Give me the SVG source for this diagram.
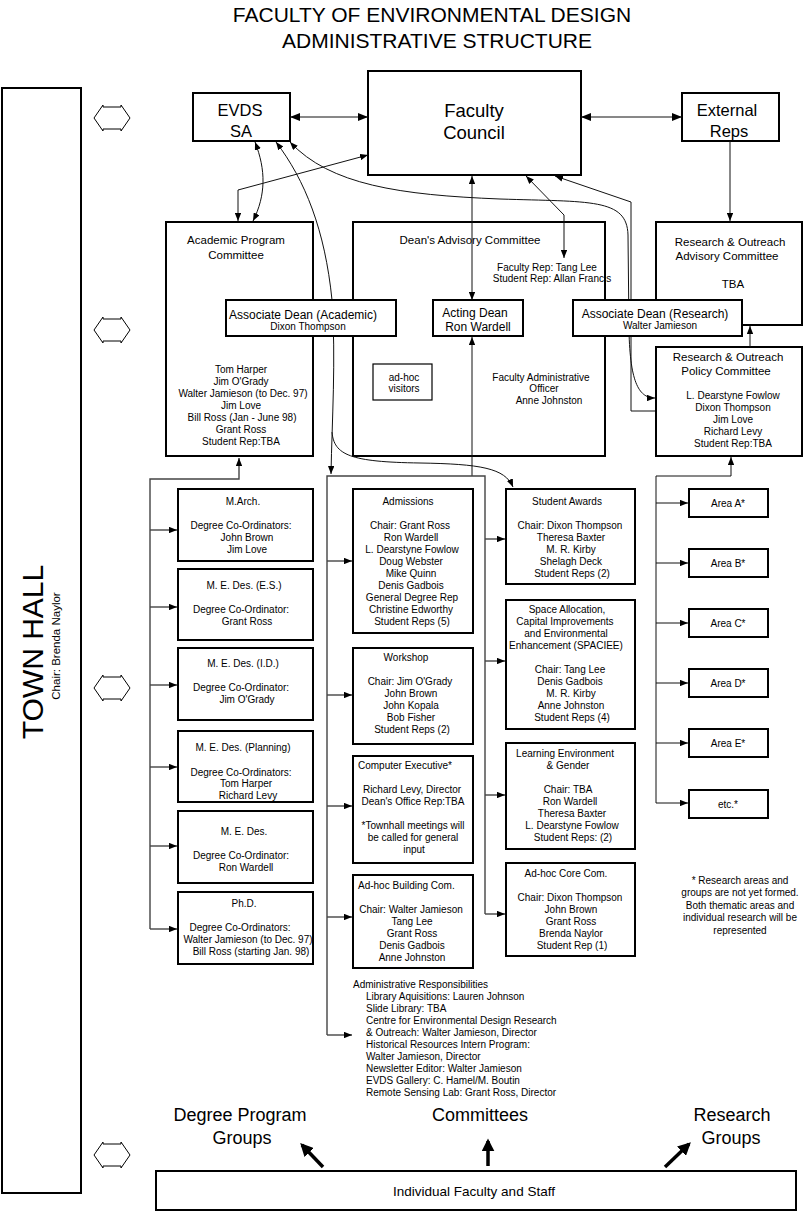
<svg xmlns="http://www.w3.org/2000/svg" width="804" height="1213" viewBox="0 0 804 1213">
<defs>
<style>
.b{fill:#fff;stroke:#000;stroke-width:2}
.bt{fill:#fff;stroke:#000;stroke-width:1.2}
text{font-family:"Liberation Sans",Arial,Helvetica,sans-serif;fill:#000}
.m{text-anchor:middle}
.s{font-size:10px}
.h{font-size:11.5px}
.a{font-size:12px}
.big{font-size:18px}
.c{fill:none;stroke:#111;stroke-width:1}
.k{fill:none;stroke:#444;stroke-width:1.4}
.x{fill:none;stroke:#000;stroke-width:3.5}
.da{fill:#fff;stroke:#000;stroke-width:1}
</style>
<marker id="ah" viewBox="0 0 10 8" refX="10" refY="4" markerWidth="8" markerHeight="6.4" markerUnits="userSpaceOnUse" orient="auto-start-reverse"><path d="M0,0L10,4L0,8z"/></marker>
<marker id="ahl" viewBox="0 0 10 8" refX="10" refY="4" markerWidth="10" markerHeight="8" markerUnits="userSpaceOnUse" orient="auto-start-reverse"><path d="M0,0L10,4L0,8z"/></marker>
<marker id="ahb" viewBox="0 0 10 10" refX="8" refY="5" markerWidth="13" markerHeight="13" markerUnits="userSpaceOnUse" orient="auto"><path d="M0,0L10,5L0,10z"/></marker>
<path id="dbl" class="da" d="M94,0L103,-13L103,-11L121,-11L121,-13L130,0L121,13L121,11L103,11L103,13Z"/>
</defs>

<g id="title">
<text class="m" x="432" y="22" font-size="21">FACULTY OF ENVIRONMENTAL DESIGN</text>
<text class="m" x="437" y="48" font-size="21">ADMINISTRATIVE STRUCTURE</text>
</g>

<g id="town-hall">
<rect class="b" x="2" y="88" width="79" height="1105"/>
<text class="m" transform="translate(43,652) rotate(-90)" font-size="30">TOWN HALL</text>
<text class="m" transform="translate(60,646) rotate(-90)" font-size="11.5">Chair: Brenda Naylor</text>
</g>

<g id="town-hall-links">
<use href="#dbl" y="118"/>
<use href="#dbl" y="330"/>
<use href="#dbl" y="688"/>
<use href="#dbl" y="1155"/>
</g>

<g id="evds-sa">
<rect class="b" x="193" y="93" width="97" height="48"/>
<text class="m" x="240" y="116" font-size="16.5">EVDS</text>
<text class="m" x="241" y="137" font-size="16.5">SA</text>
</g>

<g id="faculty-council">
<rect class="b" x="368" y="71" width="213" height="104"/>
<text class="m" x="474" y="117" font-size="18.5">Faculty</text>
<text class="m" x="474" y="139" font-size="18.5">Council</text>
</g>

<g id="external-reps">
<rect class="b" x="682" y="93" width="97" height="48"/>
<text class="m" x="727" y="116" font-size="16.5">External</text>
<text class="m" x="729" y="137" font-size="16.5">Reps</text>
</g>

<g id="academic-program-committee">
<rect class="b" x="166" y="222" width="147" height="234"/>
<text class="m h" x="236" y="244">Academic Program</text>
<text class="m h" x="236" y="259">Committee</text>
<text class="m s" x="242"><tspan x="241" y="373">Tom Harper</tspan><tspan x="241" y="385">Jim O'Grady</tspan><tspan x="243" y="397">Walter Jamieson (to Dec. 97)</tspan><tspan x="241" y="409">Jim Love</tspan><tspan x="242" y="421">Bill Ross (Jan - June 98)</tspan><tspan x="241" y="433">Grant Ross</tspan><tspan x="241" y="445">Student Rep:TBA</tspan></text>
</g>

<g id="deans-advisory-committee">
<rect class="b" x="353" y="222" width="252" height="234"/>
<text class="m h" x="470" y="244">Dean's Advisory Committee</text>
<text class="m s" x="547" y="270.5">Faculty Rep: Tang Lee</text>
<text class="m s" x="552" y="282">Student Rep: Allan Francis</text>
<text class="m s"><tspan x="541" y="380.5">Faculty Administrative</tspan><tspan x="544" y="391.5">Officer</tspan><tspan x="549" y="403.5">Anne Johnston</tspan></text>
</g>

<g id="adhoc-visitors">
<rect class="bt" x="373" y="364" width="59" height="36"/>
<text class="m s" x="404" y="380.5">ad-hoc</text>
<text class="m s" x="404" y="391.5">visitors</text>
</g>

<g id="ro-advisory-committee">
<rect class="b" x="656" y="222" width="146" height="103"/>
<text class="m h" x="730" y="245.5">Research &amp; Outreach</text>
<text class="m h" x="727" y="259.5">Advisory Committee</text>
<text class="m h" x="733" y="288">TBA</text>
</g>

<g id="ro-policy-committee">
<rect class="b" x="656" y="347" width="146" height="109"/>
<text class="m h" x="728" y="360.5">Research &amp; Outreach</text>
<text class="m h" x="726" y="374.5">Policy Committee</text>
<text class="m s"><tspan x="733" y="398.5">L. Dearstyne Fowlow</tspan><tspan x="733" y="410.5">Dixon Thompson</tspan><tspan x="733" y="422.5">Jim Love</tspan><tspan x="733" y="434.5">Richard Levy</tspan><tspan x="733" y="446.5">Student Rep:TBA</tspan></text>
</g>

<g id="connectors">
<path class="c" d="M290,117H368" marker-start="url(#ahl)" marker-end="url(#ahl)"/>
<path class="c" d="M581,117H682" marker-start="url(#ahl)" marker-end="url(#ahl)"/>
<path class="c" d="M368,155L238,190V221" marker-start="url(#ah)" marker-end="url(#ah)"/>
<path class="c" d="M255,142C266,170 266,195 253,221" marker-start="url(#ah)" marker-end="url(#ah)"/>
<path class="c" d="M276,142C305,180 325,230 332,300C336,360 332,420 331,474" marker-start="url(#ah)" marker-end="url(#ah)"/>
<path class="c" d="M332,432C334,455 350,462 420,463C480,464 505,468 513,487" marker-end="url(#ah)"/>
<path class="c" d="M290,142C330,185 400,195 500,199C590,202 627,198 628,235L629,330C630,385 640,398 655,398" marker-start="url(#ah)" marker-end="url(#ah)"/>
<path class="c" d="M526,176L564,215V258" marker-start="url(#ah)" marker-end="url(#ah)"/>
<path class="c" d="M555,176L631,202V411H655" marker-start="url(#ah)"/>
<path class="c" d="M472,176V300" marker-start="url(#ah)" marker-end="url(#ah)"/>
<path class="c" d="M472,476V337" marker-end="url(#ah)"/>
<path class="c" d="M730,141V221" marker-end="url(#ah)"/>
<path class="c" d="M750,347V326" marker-end="url(#ah)"/>
<path class="k" d="M150,929V479H239V458" marker-end="url(#ah)"/>
<path class="k" d="M150,530H177" marker-end="url(#ah)"/>
<path class="k" d="M150,607H177" marker-end="url(#ah)"/>
<path class="k" d="M150,685H177" marker-end="url(#ah)"/>
<path class="k" d="M150,767H177" marker-end="url(#ah)"/>
<path class="k" d="M150,846H177" marker-end="url(#ah)"/>
<path class="k" d="M150,929H177" marker-end="url(#ah)"/>
<path class="k" d="M327,1035V476H485V914"/>
<path class="k" d="M327,561H352" marker-end="url(#ah)"/>
<path class="k" d="M327,695H352" marker-end="url(#ah)"/>
<path class="k" d="M327,806H352" marker-end="url(#ah)"/>
<path class="k" d="M327,917H352" marker-end="url(#ah)"/>
<path class="k" d="M327,1035H352" marker-end="url(#ah)"/>
<path class="k" d="M485,539H505" marker-end="url(#ah)"/>
<path class="k" d="M485,661H505" marker-end="url(#ah)"/>
<path class="k" d="M485,795H505" marker-end="url(#ah)"/>
<path class="k" d="M485,914H505" marker-end="url(#ah)"/>
<path class="c" d="M656,803V476H731V457" marker-end="url(#ah)"/>
<path class="c" d="M656,503H688" marker-end="url(#ah)"/>
<path class="c" d="M656,563H688" marker-end="url(#ah)"/>
<path class="c" d="M656,623H688" marker-end="url(#ah)"/>
<path class="c" d="M656,683H688" marker-end="url(#ah)"/>
<path class="c" d="M656,743H688" marker-end="url(#ah)"/>
<path class="c" d="M656,803H688" marker-end="url(#ah)"/>
<path class="x" d="M323,1167L302,1145" marker-end="url(#ahb)"/>
<path class="x" d="M488,1166V1141" marker-end="url(#ahb)"/>
<path class="x" d="M665,1167L689,1144" marker-end="url(#ahb)"/>
</g>

<g id="assoc-dean-academic">
<rect class="b" x="226" y="300" width="170" height="36"/>
<text class="m a" x="303" y="318.5">Associate Dean (Academic)</text>
<text class="m s" x="308" y="329.5">Dixon Thompson</text>
</g>

<g id="acting-dean">
<rect class="b" x="433" y="300" width="90" height="36"/>
<text class="m a" x="475" y="316.5">Acting Dean</text>
<text class="m a" x="478" y="331">Ron Wardell</text>
</g>

<g id="assoc-dean-research">
<rect class="b" x="573" y="300" width="169" height="36"/>
<text class="m a" x="655" y="317.5">Associate Dean (Research)</text>
<text class="m s" x="660" y="328.5">Walter Jamieson</text>
</g>

<g id="m-arch">
<rect class="b" x="178" y="489" width="135" height="72"/>
<text class="m s"><tspan x="243" y="504.5">M.Arch.</tspan><tspan x="241" y="528.5">Degree Co-Ordinators:</tspan><tspan x="247" y="540.5">John Brown</tspan><tspan x="247" y="552.5">Jim Love</tspan></text>
</g>
<g id="med-es">
<rect class="b" x="178" y="569" width="135" height="71"/>
<text class="m s"><tspan x="244" y="588.5">M. E. Des. (E.S.)</tspan><tspan x="241" y="612.5">Degree Co-Ordinator:</tspan><tspan x="247" y="624.5">Grant Ross</tspan></text>
</g>
<g id="med-id">
<rect class="b" x="178" y="648" width="135" height="72"/>
<text class="m s"><tspan x="243" y="666.5">M. E. Des. (I.D.)</tspan><tspan x="241" y="690.5">Degree Co-Ordinator:</tspan><tspan x="247" y="702.5">Jim O'Grady</tspan></text>
</g>
<g id="med-planning">
<rect class="b" x="178" y="731" width="135" height="71"/>
<text class="m s"><tspan x="243" y="750.5">M. E. Des. (Planning)</tspan><tspan x="241" y="775.5">Degree Co-Ordinators:</tspan><tspan x="246" y="786.5">Tom Harper</tspan><tspan x="248" y="798.5">Richard Levy</tspan></text>
</g>
<g id="med">
<rect class="b" x="178" y="811" width="135" height="72"/>
<text class="m s"><tspan x="244" y="834.5">M. E. Des.</tspan><tspan x="241" y="858.5">Degree Co-Ordinator:</tspan><tspan x="246" y="870.5">Ron Wardell</tspan></text>
</g>
<g id="phd">
<rect class="b" x="178" y="892" width="135" height="72"/>
<text class="m s"><tspan x="244" y="906.5">Ph.D.</tspan><tspan x="240" y="930.5">Degree Co-Ordinators:</tspan><tspan x="248" y="942.5">Walter Jamieson (to Dec. 97)</tspan><tspan x="251" y="954.5">Bill Ross (starting Jan. 98)</tspan></text>
</g>

<g id="admissions">
<rect class="b" x="353" y="489" width="120" height="144"/>
<text class="m s"><tspan x="408" y="504.5">Admissions</tspan><tspan x="410" y="528.5">Chair: Grant Ross</tspan><tspan x="411" y="540.5">Ron Wardell</tspan><tspan x="412" y="552.5">L. Dearstyne Fowlow</tspan><tspan x="411" y="564.5">Doug Webster</tspan><tspan x="411" y="576.5">Mike Quinn</tspan><tspan x="411" y="588.5">Denis Gadbois</tspan><tspan x="412" y="600.5">General Degree Rep</tspan><tspan x="411" y="612.5">Christine Edworthy</tspan><tspan x="412" y="624.5">Student Reps (5)</tspan></text>
</g>
<g id="workshop">
<rect class="b" x="353" y="648" width="120" height="96"/>
<text class="m s"><tspan x="406" y="660.5">Workshop</tspan><tspan x="410" y="684.5">Chair: Jim O'Grady</tspan><tspan x="411" y="696.5">John Brown</tspan><tspan x="411" y="708.5">John Kopala</tspan><tspan x="411" y="720.5">Bob Fisher</tspan><tspan x="412" y="732.5">Student Reps (2)</tspan></text>
</g>
<g id="computer-executive">
<rect class="b" x="353" y="756" width="120" height="107"/>
<text class="s" x="358" y="768.5">Computer Executive*</text>
<text class="m s"><tspan x="412" y="792.5">Richard Levy, Director</tspan><tspan x="413" y="804.5">Dean's Office Rep:TBA</tspan><tspan x="413" y="828.5">*Townhall meetings will</tspan><tspan x="413" y="840.5">be called for general</tspan><tspan x="414" y="852.5">input</tspan></text>
</g>
<g id="adhoc-building">
<rect class="b" x="353" y="875" width="120" height="93"/>
<text class="s" x="358" y="888.5">Ad-hoc Building Com.</text>
<text class="m s"><tspan x="411" y="912.5">Chair: Walter Jamieson</tspan><tspan x="412" y="924.5">Tang Lee</tspan><tspan x="412" y="936.5">Grant Ross</tspan><tspan x="412" y="948.5">Denis Gadbois</tspan><tspan x="412" y="960.5">Anne Johnston</tspan></text>
</g>

<g id="student-awards">
<rect class="b" x="506" y="489" width="129" height="95"/>
<text class="m s"><tspan x="567" y="504.5">Student Awards</tspan><tspan x="570" y="528.5">Chair: Dixon Thompson</tspan><tspan x="571" y="540.5">Theresa Baxter</tspan><tspan x="571" y="552.5">M. R. Kirby</tspan><tspan x="571" y="564.5">Shelagh Deck</tspan><tspan x="572" y="576.5">Student Reps (2)</tspan></text>
</g>
<g id="spaciee">
<rect class="b" x="506" y="600" width="129" height="129"/>
<text class="m s"><tspan x="567" y="612.5">Space Allocation,</tspan><tspan x="565" y="624.5">Capital Improvements</tspan><tspan x="566" y="636.5">and Environmental</tspan><tspan x="566" y="648.5">Enhancement (SPACIEE)</tspan><tspan x="570" y="672.5">Chair: Tang Lee</tspan><tspan x="570" y="684.5">Denis Gadbois</tspan><tspan x="571" y="696.5">M. R. Kirby</tspan><tspan x="571" y="708.5">Anne Johnston</tspan><tspan x="572" y="720.5">Student Reps (4)</tspan></text>
</g>
<g id="learning-environment">
<rect class="b" x="506" y="743" width="129" height="106"/>
<text class="m s"><tspan x="565" y="756.5">Learning Environment</tspan><tspan x="568" y="768.5">&amp; Gender</tspan><tspan x="568" y="792.5">Chair: TBA</tspan><tspan x="570" y="804.5">Ron Wardell</tspan><tspan x="572" y="816.5">Theresa Baxter</tspan><tspan x="572" y="828.5">L. Dearstyne Fowlow</tspan><tspan x="573" y="840.5">Student Reps: (2)</tspan></text>
</g>
<g id="adhoc-core">
<rect class="b" x="506" y="863" width="129" height="93"/>
<text class="m s"><tspan x="566" y="876.5">Ad-hoc Core Com.</tspan><tspan x="570" y="900.5">Chair: Dixon Thompson</tspan><tspan x="571" y="912.5">John Brown</tspan><tspan x="571" y="924.5">Grant Ross</tspan><tspan x="571" y="936.5">Brenda Naylor</tspan><tspan x="572" y="948.5">Student Rep (1)</tspan></text>
</g>

<g id="admin-responsibilities">
<text class="s"><tspan x="353" y="987.5">Administrative Responsibilities</tspan><tspan x="366" y="999.5">Library Aquisitions:  Lauren Johnson</tspan><tspan x="366" y="1011.5">Slide Library: TBA</tspan><tspan x="366" y="1023.5">Centre for Environmental Design Research</tspan><tspan x="366" y="1035.5">&amp; Outreach: Walter Jamieson, Director</tspan><tspan x="366" y="1047.5">Historical Resources Intern Program:</tspan><tspan x="366" y="1059.5">Walter Jamieson, Director</tspan><tspan x="366" y="1071.5">Newsletter Editor: Walter Jamieson</tspan><tspan x="366" y="1083.5">EVDS Gallery:  C. Hamel/M. Boutin</tspan><tspan x="366" y="1095.5">Remote Sensing Lab:  Grant Ross, Director</tspan></text>
</g>

<g id="area-a"><rect class="b" x="689" y="489" width="79" height="28"/><text class="m s" x="728" y="506.5">Area A*</text></g>
<g id="area-b"><rect class="b" x="689" y="549" width="79" height="28"/><text class="m s" x="728" y="566.5">Area B*</text></g>
<g id="area-c"><rect class="b" x="689" y="609" width="79" height="28"/><text class="m s" x="728" y="626.5">Area C*</text></g>
<g id="area-d"><rect class="b" x="689" y="669" width="79" height="28"/><text class="m s" x="728" y="686.5">Area D*</text></g>
<g id="area-e"><rect class="b" x="689" y="729" width="79" height="28"/><text class="m s" x="728" y="746.5">Area E*</text></g>
<g id="area-etc"><rect class="b" x="689" y="790" width="79" height="28"/><text class="m s" x="728" y="807.5">etc.*</text></g>

<g id="footnote">
<text class="m s"><tspan x="740" y="883.5">* Research areas and</tspan><tspan x="740" y="896">groups are not yet formed.</tspan><tspan x="740" y="908.5">Both thematic areas and</tspan><tspan x="740" y="921">individual research will be</tspan><tspan x="740" y="933.5">represented</tspan></text>
</g>

<g id="group-labels">
<text class="m big" x="240" y="1121">Degree Program</text>
<text class="m big" x="242" y="1144">Groups</text>
<text class="m big" x="480" y="1121">Committees</text>
<text class="m big" x="732" y="1121">Research</text>
<text class="m big" x="731" y="1144">Groups</text>
</g>

<g id="individual-faculty-staff">
<rect class="b" x="156" y="1171" width="640" height="39"/>
<text class="m" x="474" y="1196" font-size="13.5">Individual Faculty and Staff</text>
</g>
</svg>
